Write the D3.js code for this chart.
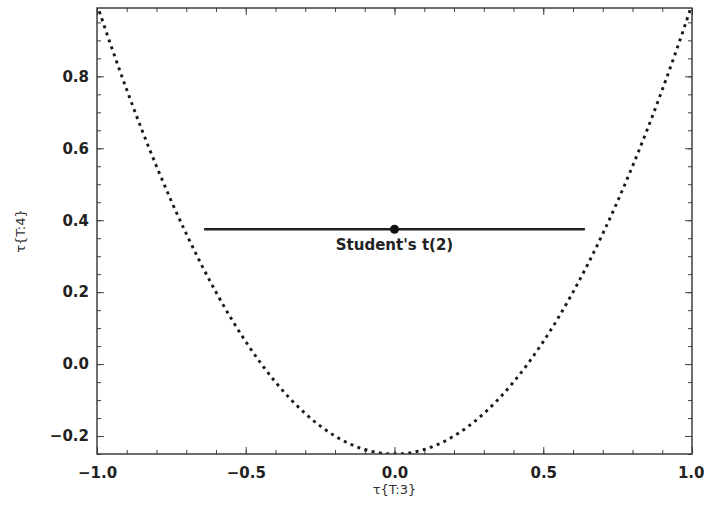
<!DOCTYPE html>
<html>
<head>
<meta charset="utf-8">
<script src="https://cdn.jsdelivr.net/npm/d3@7/dist/d3.min.js"></script>
<style>
  html, body { margin: 0; padding: 0; background: #fff; }
  svg { display: block; }
</style>
</head>
<body>
<svg id="chart" width="704" height="528"></svg>
<script>
// Lower bound of the L-moment ratio diagram (tau3, tau4)
const boundTau3 = [-1.0, -0.95, -0.9, -0.85, -0.8, -0.75, -0.7, -0.65, -0.6, -0.55, -0.5,
  -0.45, -0.4, -0.35, -0.3, -0.25, -0.2, -0.15, -0.1, -0.05, 0.0,
  0.05, 0.1, 0.15, 0.2, 0.25, 0.3, 0.35, 0.4, 0.45, 0.5,
  0.55, 0.6, 0.65, 0.7, 0.75, 0.8, 0.85, 0.9, 0.95, 1.0];
const boundTau4 = [1.0, 0.878, 0.7625, 0.653, 0.55, 0.453, 0.3625, 0.278, 0.2, 0.128, 0.0625,
  0.003, -0.05, -0.097, -0.1375, -0.172, -0.2, -0.222, -0.2375, -0.247, -0.25,
  -0.247, -0.2375, -0.222, -0.2, -0.172, -0.1375, -0.097, -0.05, 0.003, 0.0625,
  0.128, 0.2, 0.278, 0.3625, 0.453, 0.55, 0.653, 0.7625, 0.878, 1.0];

// Student's t(2): point estimate and horizontal range of tau3
const studentName = "Student's t(2)";
const studentTau3 = 0.0;
const studentTau4 = 0.375;
const studentRange = [-0.64, 0.64];

const xTicks = [-1.0, -0.5, 0.0, 0.5, 1.0];
const yTicks = [-0.2, 0.0, 0.2, 0.4, 0.6, 0.8];
const xMinorTicks = d3.range(-10, 11).map(d => d / 10);
const yMinorTicks = d3.range(-5, 20).map(d => d / 20);

const xLabel = "τ{T:3}";
const yLabel = "τ{T:4}";

const svg = d3.select("#chart");
const plotLeft = 97, plotRight = 692, plotTop = 8, plotBottom = 454;

const x = d3.scaleLinear().domain([-1, 1]).range([plotLeft, plotRight]);
const y = d3.scaleLinear().domain([-0.25, 0.99]).range([plotBottom, plotTop]);

const fmt = d => (d < 0 ? "\u2212" : "") + Math.abs(d).toFixed(1);
const tickFont = "'DejaVu Sans', sans-serif";

svg.append("defs").append("clipPath").attr("id", "plotClip")
  .append("rect").attr("x", plotLeft).attr("y", plotTop)
  .attr("width", plotRight - plotLeft).attr("height", plotBottom - plotTop);

// Frame ticks on all four sides, pointing inward
function frameAxis(axisGen, transform, ticks, size) {
  const g = svg.append("g").attr("transform", transform)
    .call(axisGen.tickValues(ticks).tickSize(size).tickFormat(""));
  g.select(".domain").remove();
  g.selectAll(".tick line").attr("stroke", "#444").attr("stroke-width", 1);
  return g;
}
frameAxis(d3.axisBottom(x), `translate(0,${plotBottom})`, xMinorTicks, -4);
frameAxis(d3.axisBottom(x), `translate(0,${plotBottom})`, xTicks, -7);
frameAxis(d3.axisTop(x), `translate(0,${plotTop})`, xMinorTicks, -4);
frameAxis(d3.axisTop(x), `translate(0,${plotTop})`, xTicks, -7);
frameAxis(d3.axisLeft(y), `translate(${plotLeft},0)`, yMinorTicks, -4);
frameAxis(d3.axisLeft(y), `translate(${plotLeft},0)`, yTicks, -7);
frameAxis(d3.axisRight(y), `translate(${plotRight},0)`, yMinorTicks, -4);
frameAxis(d3.axisRight(y), `translate(${plotRight},0)`, yTicks, -7);

// Tick labels
const xl = svg.append("g").attr("transform", `translate(0,${plotBottom})`)
  .call(d3.axisBottom(x).tickValues(xTicks).tickSize(0).tickPadding(13).tickFormat(fmt));
xl.select(".domain").remove();
xl.selectAll("text").attr("font-family", tickFont).attr("font-weight", "bold")
  .attr("font-size", 15).attr("fill", "#222");
// keep the last label inside the page edge
xl.selectAll(".tick").filter(d => d === 1.0).select("text").attr("text-anchor", "end").attr("dx", 12);

const yl = svg.append("g").attr("transform", `translate(${plotLeft},0)`)
  .call(d3.axisLeft(y).tickValues(yTicks).tickSize(0).tickPadding(8).tickFormat(fmt));
yl.select(".domain").remove();
yl.selectAll("text").attr("font-family", tickFont).attr("font-weight", "bold")
  .attr("font-size", 15).attr("fill", "#222");

// Lower-bound curve (dotted)
const boundPts = boundTau3.map((t, i) => [t, boundTau4[i]]);
svg.append("path")
  .datum(boundPts)
  .attr("clip-path", "url(#plotClip)")
  .attr("fill", "none")
  .attr("stroke", "#1a1a1a")
  .attr("stroke-width", 2.9)
  .attr("stroke-dasharray", "3,4.4")
  .attr("d", d3.line().x(d => x(d[0])).y(d => y(d[1])).curve(d3.curveCatmullRom));

// Student's t(2) range line and point
svg.append("line")
  .attr("x1", x(studentRange[0])).attr("x2", x(studentRange[1]))
  .attr("y1", y(studentTau4)).attr("y2", y(studentTau4))
  .attr("stroke", "#222").attr("stroke-width", 2.6);
svg.append("circle")
  .attr("cx", x(studentTau3)).attr("cy", y(studentTau4)).attr("r", 4.5)
  .attr("fill", "#111");
svg.append("text")
  .attr("x", x(studentTau3)).attr("y", y(studentTau4) + 21)
  .attr("text-anchor", "middle")
  .attr("font-family", tickFont).attr("font-weight", "bold").attr("font-size", 15)
  .attr("fill", "#222")
  .text(studentName);

// Frame
svg.append("rect")
  .attr("x", plotLeft).attr("y", plotTop)
  .attr("width", plotRight - plotLeft).attr("height", plotBottom - plotTop)
  .attr("fill", "none").attr("stroke", "#333").attr("stroke-width", 1.4);

// Axis titles
svg.append("text")
  .attr("x", (plotLeft + plotRight) / 2).attr("y", 494)
  .attr("text-anchor", "middle")
  .attr("font-family", tickFont).attr("font-size", 13).attr("fill", "#333")
  .text(xLabel);
svg.append("text")
  .attr("transform", `translate(25,${(plotTop + plotBottom) / 2}) rotate(-90)`)
  .attr("text-anchor", "middle")
  .attr("font-family", tickFont).attr("font-size", 13).attr("fill", "#333")
  .text(yLabel);
</script>
</body>
</html>
